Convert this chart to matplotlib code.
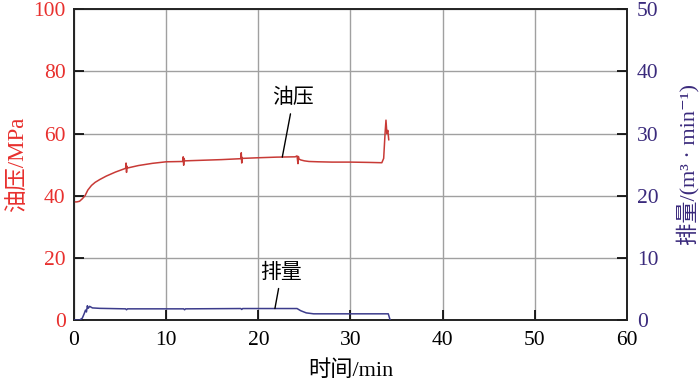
import matplotlib
matplotlib.use("Agg")
import matplotlib.pyplot as plt

plt.rcParams['font.family'] = ['Liberation Serif', 'Noto Sans CJK SC', 'DejaVu Serif']

# Oil pressure (MPa) vs time (min)
oil_t = [0, 0.3, 0.6, 0.9, 1.2, 1.5, 1.9, 2.3, 2.8, 3.5, 4.5, 5.6, 5.65, 5.7, 5.75,
         5.8, 7, 8.5, 10, 11.8, 11.85, 11.9, 11.95, 12.0, 14, 16, 18.1, 18.15, 18.2,
         18.25, 18.3, 20, 22, 24.0, 24.2, 24.3, 24.35, 24.4, 24.6, 25.0, 25.5, 26.5,
         28, 30, 32, 33.4, 33.6, 33.75, 33.85, 33.95, 34.05, 34.15]
oil_p = [38, 38, 38.2, 39, 40, 41.8, 43.3, 44.3, 45.2, 46.3, 47.6, 48.8, 50.5, 47.5, 49.5,
         48.9, 49.7, 50.4, 50.9, 51.0, 52.5, 49.8, 52, 51.2, 51.4, 51.6, 51.9, 53.8, 50.5,
         52.3, 52.0, 52.2, 52.4, 52.5, 52.8, 50.3, 52.6, 51.8, 51.5, 51.2, 51.0, 50.9,
         50.8, 50.8, 50.7, 50.6, 52, 60, 64.3, 60, 61, 58]

# Discharge rate (m3/min) vs time (min)
q_t = [0, 0.6, 0.9, 1.1, 1.25, 1.35, 1.45, 1.55, 1.7, 2.0, 2.8, 5.6, 5.7, 5.8, 11.9,
       12.0, 12.1, 18.1, 18.2, 18.3, 24.2, 24.6, 25.2, 26, 30, 34.1, 34.3]
q_v = [0, 0, 0.3, 1.0, 1.6, 1.3, 2.3, 1.9, 2.2, 1.95, 1.88, 1.8, 1.65, 1.8, 1.8,
       1.65, 1.8, 1.85, 1.7, 1.85, 1.85, 1.5, 1.15, 1.0, 1.0, 1.0, 0]

x_ticks = [0, 10, 20, 30, 40, 50, 60]
left_ticks = [0, 20, 40, 60, 80, 100]
right_ticks = [0, 10, 20, 30, 40, 50]

red = '#e8302e'
blue = '#3a2a7c'

fig = plt.figure(figsize=(7.0, 3.81), dpi=100)
ax = fig.add_axes([0.1057, 0.160, 0.790, 0.816])
ax2 = ax.twinx()

ax.plot(oil_t, oil_p, color='#c83a36', lw=1.1, zorder=3)
ax2.plot(q_t, q_v, color='#3c3c8c', lw=1.1, zorder=3)

ax.set_xlim(0, 60)
ax.set_ylim(0, 100)
ax2.set_ylim(0, 50)
ax.set_xticks(x_ticks)
ax.set_yticks(left_ticks)
ax2.set_yticks(right_ticks)

ax.grid(True, color='#a0a0a0', lw=1.0)
ax.set_axisbelow(True)

ax.tick_params(axis='both', direction='in', length=7, width=1.2, labelsize=15.5)
ax.tick_params(axis='y', colors='black', labelcolor=red, pad=6)
ax.tick_params(axis='x', labelcolor='black', pad=8)
ax2.tick_params(axis='y', direction='in', length=7, width=1.2, labelsize=15.5,
                labelcolor=blue, pad=7)
for a in (ax, ax2):
    for s in a.spines.values():
        s.set_linewidth(1.2)
        s.set_color('#222222')

ax.set_xlabel('时间/min', fontsize=16, labelpad=7)
ax.set_ylabel('油压/MPa', fontsize=16.5, color=red, labelpad=4)
ax2.set_ylabel('排量/(m³ · min⁻¹)', fontsize=16, color=blue, labelpad=13)

ax.annotate('油压', xy=(22.6, 52.4), xytext=(23.8, 71.2), fontsize=15,
            ha='center', va='center',
            arrowprops=dict(arrowstyle='-', color='black', lw=1.0, shrinkA=2, shrinkB=0))
ax2.annotate('排量', xy=(21.8, 1.85), xytext=(22.5, 7.5), fontsize=15,
             ha='center', va='center',
             arrowprops=dict(arrowstyle='-', color='black', lw=1.0, shrinkA=2, shrinkB=0))

fig.savefig('out.png', dpi=100)
